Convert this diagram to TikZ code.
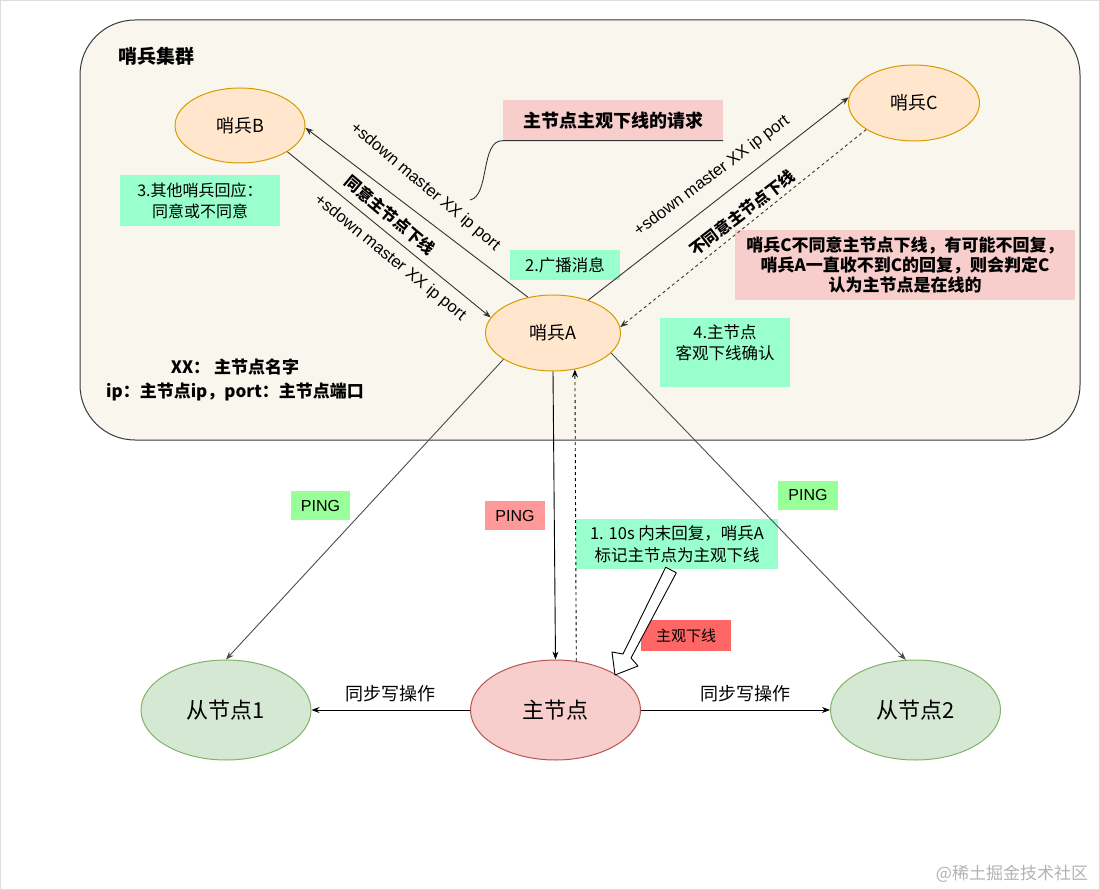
\documentclass[tikz,border=0pt]{standalone}
\usepackage{fontspec}
\setmainfont{Noto Sans CJK SC}
\newfontfamily\latfont{Liberation Sans}
\usetikzlibrary{shapes.geometric,arrows.meta,calc}
\definecolor{clusterfill}{HTML}{F9F7ED}
\definecolor{clusterline}{HTML}{36393D}
\definecolor{orgfill}{HTML}{FFE6CC}
\definecolor{orgline}{HTML}{D79B00}
\definecolor{pinkfill}{HTML}{F8CECC}
\definecolor{pinkline}{HTML}{B85450}
\definecolor{grnfill}{HTML}{D5E8D4}
\definecolor{grnline}{HTML}{82B366}
\definecolor{mint}{HTML}{99FFCC}
\definecolor{pinggreen}{HTML}{99FF99}
\definecolor{pingpink}{HTML}{FF9999}
\definecolor{redbox}{HTML}{FF6666}
\definecolor{connc}{HTML}{333333}
\definecolor{framec}{HTML}{DDDDDD}
\newcommand{\fsz}[2]{\fontsize{#1}{#2}\selectfont}
\begin{document}
\begin{tikzpicture}[x=1pt,y=-1pt,line join=round,
  sentinel/.style={ellipse, draw=orgline, fill=orgfill, line width=1pt, minimum width=130pt, minimum height=75pt, inner sep=0pt, font=\fsz{18}{22}},
  datanode/.style={ellipse, line width=1pt, minimum width=170pt, minimum height=100pt, inner sep=0pt, font=\fsz{22}{26}},
  fillbox/.style={rectangle, inner sep=0pt, align=center, font=\fsz{16}{21}},
  pingbox/.style={fillbox, minimum width=60pt, minimum height=29pt, font=\latfont\fsz{16}{19}},
  slopelabel/.style={font=\latfont\fsz{16.5}{19}, inner sep=0pt},
  conn/.style={draw=connc, line width=0.9pt, -{Stealth[length=8pt,width=6pt]}},
  dashconn/.style={conn, dash pattern=on 3pt off 3pt}]
\useasboundingbox (0,0) rectangle (1100,890);
\draw[framec, line width=1pt] (0.5,0.5) rectangle (1099.5,889.5);

% cluster
\node[draw=clusterline, fill=clusterfill, line width=1pt, rounded corners=55pt,
      minimum width=1000pt, minimum height=420pt, inner sep=0pt] (cluster) at (580,230) {};
\node[font=\bfseries\fsz{19}{22}] (title) at (156,56.5) {哨兵集群};

% sentinels
\node[sentinel] (B) at (240,125.5) {哨兵B};
\node[sentinel, minimum width=131pt, minimum height=76pt] (C) at (914,103) {哨兵C};
\node[sentinel, minimum width=135pt, minimum height=76pt] (A) at (553,333) {哨兵A};

% data nodes
\node[datanode, draw=pinkline, fill=pinkfill] (M) at (555.5,710) {主节点};
\node[datanode, draw=grnline, fill=grnfill] (S1) at (226,710) {从节点1};
\node[datanode, draw=grnline, fill=grnfill] (S2) at (915.5,710) {从节点2};

% boxes
\node[fillbox, fill=mint, minimum width=160pt, minimum height=51pt] (r3) at (200,200.5) {3.其他哨兵回应：\\同意或不同意};
\node[fillbox, fill=pinkfill, minimum width=220pt, minimum height=40pt, font=\bfseries\fsz{18}{22}] (req) at (613,120.5) {主节点主观下线的请求};
\node[fillbox, fill=mint, minimum width=110pt, minimum height=30pt, font=\fsz{16.5}{21}] (bc) at (565,265) {2.广播消息};
\node[fillbox, fill=mint, minimum width=130pt, minimum height=69pt] (r4) at (725,352.5) {};
\node[font=\fsz{16.5}{21}, align=center, inner sep=0pt] (r4t) at (725,343) {4.主节点\\客观下线确认};
\node[fillbox, fill=pinkfill, minimum width=340pt, minimum height=70pt, font=\bfseries\fsz{17}{20}] (cnote) at (905,265)
  {哨兵C不同意主节点下线，有可能不回复，\\哨兵A一直收不到C的回复，则会判定C\\认为主节点是在线的};
\node[font=\bfseries\fsz{17}{24}, align=center, inner sep=0pt] (legend) at (235,380) {XX：~主节点名字\\ip：主节点ip，port：主节点端口};

\node[pingbox, fill=pinggreen, minimum width=59pt] (p1) at (320.5,505.5) {PING};
\node[pingbox, fill=pingpink] (p2) at (515,515.5) {PING};
\node[pingbox, fill=pinggreen] (p3) at (808,495) {PING};
\node[fillbox, fill=mint, minimum width=202pt, minimum height=50pt, font=\fsz{16.5}{22}] (r1) at (677,544) {1. 10s 内末回复，哨兵A\\标记主节点为主观下线};
\node[fillbox, fill=redbox, minimum width=90pt, minimum height=31pt, font=\fsz{15}{18}] (sd) at (686,635.5) {主观下线};

\node[font=\fsz{18}{20}] (w1) at (390,694) {同步写操作};
\node[font=\fsz{18}{20}] (w2) at (745,694) {同步写操作};
\node[text=black!30, font=\fsz{17}{20}] (wm) at (1012,874) {@稀土掘金技术社区};

% connectors among sentinels
\draw[conn] (A.125) -- (B.-2);
\draw[conn] (B.-29) -- (A.166);
\draw[conn] (A.43) -- (C.175);
\draw[dashconn] (C.209) -- (A.5);

\node[slopelabel, rotate=-40] (l1) at (425,187) {+sdown master XX ip port};
\node[slopelabel, rotate=-40, font=\bfseries\fsz{16}{19}] (l2) at (390,215) {同意主节点下线};
\node[slopelabel, rotate=-39] (l3) at (390,258) {+sdown master XX ip port};
\node[slopelabel, rotate=37] (l4) at (712,176) {+sdown master XX ip port};
\node[slopelabel, rotate=37.5, font=\bfseries\fsz{16}{19}] (l5) at (742,213) {不同意主节点下线};

% callout curve
\coordinate (co) at (470,200);
\draw[connc, line width=0.9pt] (co) .. controls (490,196) and (480,140) .. (req.south west) -- (req.south east);

% PING lines
\draw[conn, draw=black!70] (A.208) -- (S1.north);
\draw[conn, draw=black!70] (A.-19) -- (S2.101);
\draw[conn, draw=black] (A.south) -- (M.north);
\draw[dashconn, draw=black] (M.67) -- (A.301);

% replication
\draw[conn, draw=black] (M.west) -- (S1.east);
\draw[conn, draw=black] (M.east) -- (S2.west);

% hollow block arrow
\coordinate (h1) at (665.7,567.2);
\coordinate (h2) at (623,654);
\coordinate (h3) at (612,652);
\coordinate (h4) at (615,675);
\coordinate (h5) at (638,666);
\coordinate (h6) at (631,658);
\coordinate (h7) at (676.3,572.8);
\draw[fill=white, draw=black, line width=0.9pt] (h1) -- (h2) -- (h3) -- (h4) -- (h5) -- (h6) -- (h7) -- cycle;
\end{tikzpicture}
\end{document}
